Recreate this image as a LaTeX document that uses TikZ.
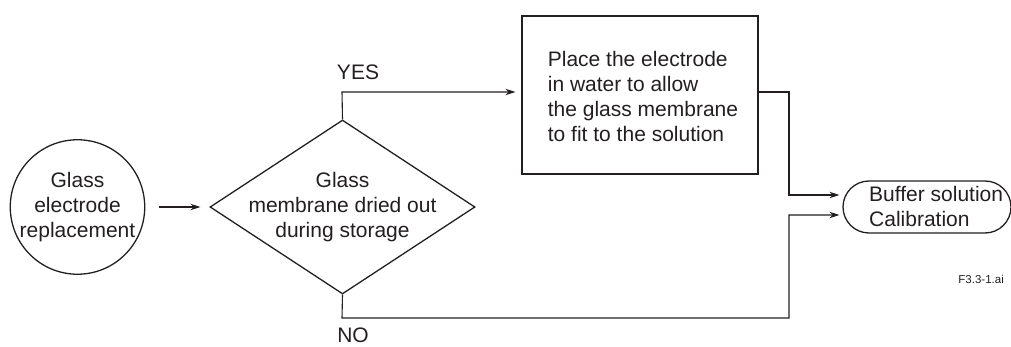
\documentclass[tikz,border=0pt]{standalone}
\usepackage{fontspec}
\setmainfont{Liberation Sans}
\usetikzlibrary{shapes.geometric,arrows.meta}
\definecolor{ink}{HTML}{231F20}
\begin{document}
\begin{tikzpicture}[x=1pt,y=-1pt,
  every node/.style={text=ink,font=\fontsize{21}{25}\selectfont},
  shapeline/.style={draw=ink,line width=1.3pt},
  conn/.style={draw=ink,line width=1.1pt},
  arr/.style={conn,-{Stealth[length=10pt,width=6.5pt]}},
  lbl/.style={inner sep=0pt}]
\useasboundingbox (0,0) rectangle (1011,347);
\begin{scope}
\clip (0,0) rectangle (1011,347);
% start circle
\node[shapeline,circle,minimum size=134pt,inner sep=0pt,align=center] (circ) at (77.5,207) {Glass\\electrode\\replacement};
% decision diamond
\node[shapeline,diamond,minimum width=265pt,minimum height=174pt,inner sep=0pt] (dia) at (342.5,207) {};
\node[align=center,inner sep=0pt] (diatext) at (dia.center) {Glass\\membrane dried out\\during storage};
% process box
\node[shapeline,rectangle,minimum width=236pt,minimum height=158pt,inner sep=0pt] (box) at (640,95) {};
\node[align=left,inner sep=0pt] (boxtext) at (643,96) {Place the electrode\\in water to allow\\the glass membrane\\to fit to the solution};
% terminal
\node[shapeline,rectangle,rounded corners=26pt,minimum width=168pt,minimum height=52pt,inner sep=0pt] (term) at (927,207) {};
\node[align=left,inner sep=0pt,anchor=west] (termtext) at (869,206) {Buffer solution\\Calibration};
% labels
\node[lbl] (yes) at (358,72) {YES};
\node[lbl] (no) at (353,335) {NO};
\node[lbl,anchor=east,font=\fontsize{11.5}{13}\selectfont] (fig) at (1004,279) {F3.3-1.ai};
% junction coordinates
\coordinate (yj) at (342,92);
\coordinate (bj) at (789,92);
\coordinate (bj2) at (789,195);
\coordinate (nj) at (342,318);
\coordinate (nj2) at (789,318);
\coordinate (nj3) at (789,215);
% connectors
\draw[arr] ([xshift=14pt]circ.east) -- ([xshift=-9pt]dia.west);
\draw[arr] (dia.north) -- (yj) -- ([xshift=-6pt,yshift=3pt]box.west);
\draw[arr] ([yshift=3pt]box.east) -- (bj) -- (bj2) -- ([xshift=-3pt,yshift=12pt]term.west);
\draw[arr] (dia.south) -- (nj) -- (nj2) -- (nj3) -- ([xshift=-3pt,yshift=-8pt]term.west);
\end{scope}
\end{tikzpicture}
\end{document}
